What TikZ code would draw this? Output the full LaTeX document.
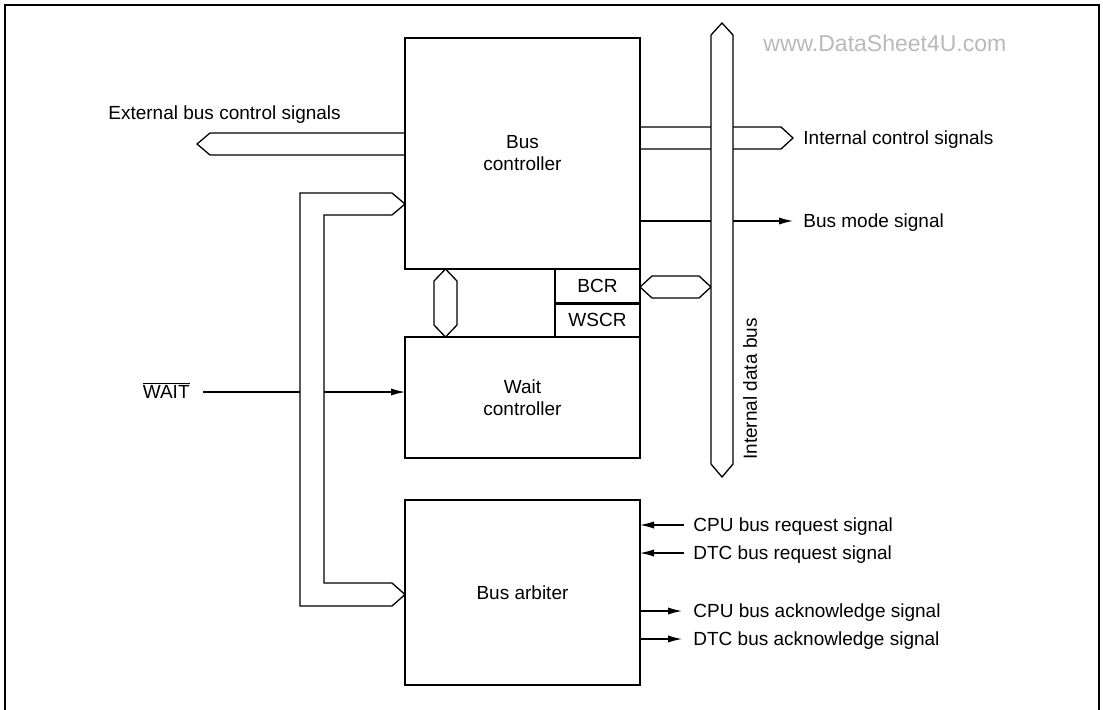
\documentclass[tikz,border=0pt]{standalone}
\usepackage{fontspec}
\setmainfont{Liberation Sans}
\usetikzlibrary{arrows.meta}
\tikzset{
  blk/.style={draw,line width=1.2pt,align=center,inner sep=0pt,outer sep=0pt},
  lbl/.style={inner sep=0pt,text height=6.8pt,text depth=0pt},
  bus/.style={draw,line width=0.65pt,line join=miter},
  sig/.style={line width=0.6pt,-{Latex[length=7pt,width=3.6pt]}}
}
\begin{document}
\begin{tikzpicture}[x=0.5pt,y=-0.5pt,font=\fontsize{9.5}{11}\selectfont]
        \useasboundingbox (0,0) rectangle (1103,709);
        \draw[line width=1.3pt] (5,712) -- (5,5) -- (1099,5) -- (1099,712);
        \node[blk,minimum width=117.5pt,minimum height=115.5pt] (busctl) at (522.5,153.5) {Bus\\controller};
        \node[blk,minimum width=42.5pt,minimum height=17.25pt,anchor=north east] (bcr) at (busctl.south east) {BCR};
        \node[blk,minimum width=42.5pt,minimum height=16.75pt,anchor=north] (wscr) at (bcr.south) {WSCR};
        \node[blk,minimum width=117.5pt,minimum height=60.5pt,anchor=north east] (waitctl) at (wscr.south east) {Wait\\controller};
        \node[blk,minimum width=117.5pt,minimum height=92.5pt,anchor=north] (arb) at (522.5,500) {Bus arbiter};
        \node[lbl,anchor=west] (extlbl) at (108,113) {External bus control signals};
        \node[lbl,anchor=west] (ictl) at (803,138) {Internal control signals};
        \node[lbl,anchor=west] (mode) at (803,221) {Bus mode signal};
        \node[lbl,anchor=east] (wait) at (190,392) {$\overline{\hbox{WAIT}}$};
        \node[lbl,rotate=90] (dbus) at (750,389) {Internal data bus};
        \node[lbl,anchor=west,text=gray!55,font=\fontsize{11.5}{12}\selectfont] (wmark) at (763,45) {www.DataSheet4U.com};
        \foreach \n/\y/\t in {cpureq/525/CPU bus request signal,dtcreq/553/DTC bus request signal}{\node[lbl,anchor=west] (\n) at (693,\y) {\t}; \draw[sig] ([xshift=-4.5pt]\n.west) -- (arb.east |- \n.west);}
        \foreach \n/\y/\t in {cpuack/611/CPU bus acknowledge signal,dtcack/639/DTC bus acknowledge signal}{\node[lbl,anchor=west] (\n) at (693,\y) {\t}; \draw[sig] (arb.east |- \n.west) -- ([xshift=-5.5pt]\n.west);}
        \draw[sig] (busctl.east |- mode.west) -- ([xshift=-5pt]mode.west);
        \draw[sig] ([xshift=6.5pt]wait.east) -- (waitctl.west |- wait.east);
        \draw[bus] (405,133) -- (210,133) -- (197,144) -- (210,155) -- (405,155);
        \draw[bus] (640,127) -- (781,127) -- (793,138) -- (781,149) -- (640,149);
        \draw[bus] (640,287) -- (652,276) -- (699,276) -- (711,287) -- (699,298) -- (652,298) -- cycle;
        \draw[bus] (445.5,269) -- (457,281) -- (457,325) -- (445.5,337) -- (434,325) -- (434,281) -- cycle;
        \draw[bus,fill=white] (722,23) -- (733,35) -- (733,464) -- (722,477) -- (711,464) -- (711,35) -- cycle;
        \draw[bus,fill=white] (392,193) -- (300,193) -- (300,606) -- (392,606) -- (405,594.5) -- (392,583) -- (324,583) -- (324,215) -- (392,215) -- (405,204) -- cycle;
    \end{tikzpicture}
\end{document}
